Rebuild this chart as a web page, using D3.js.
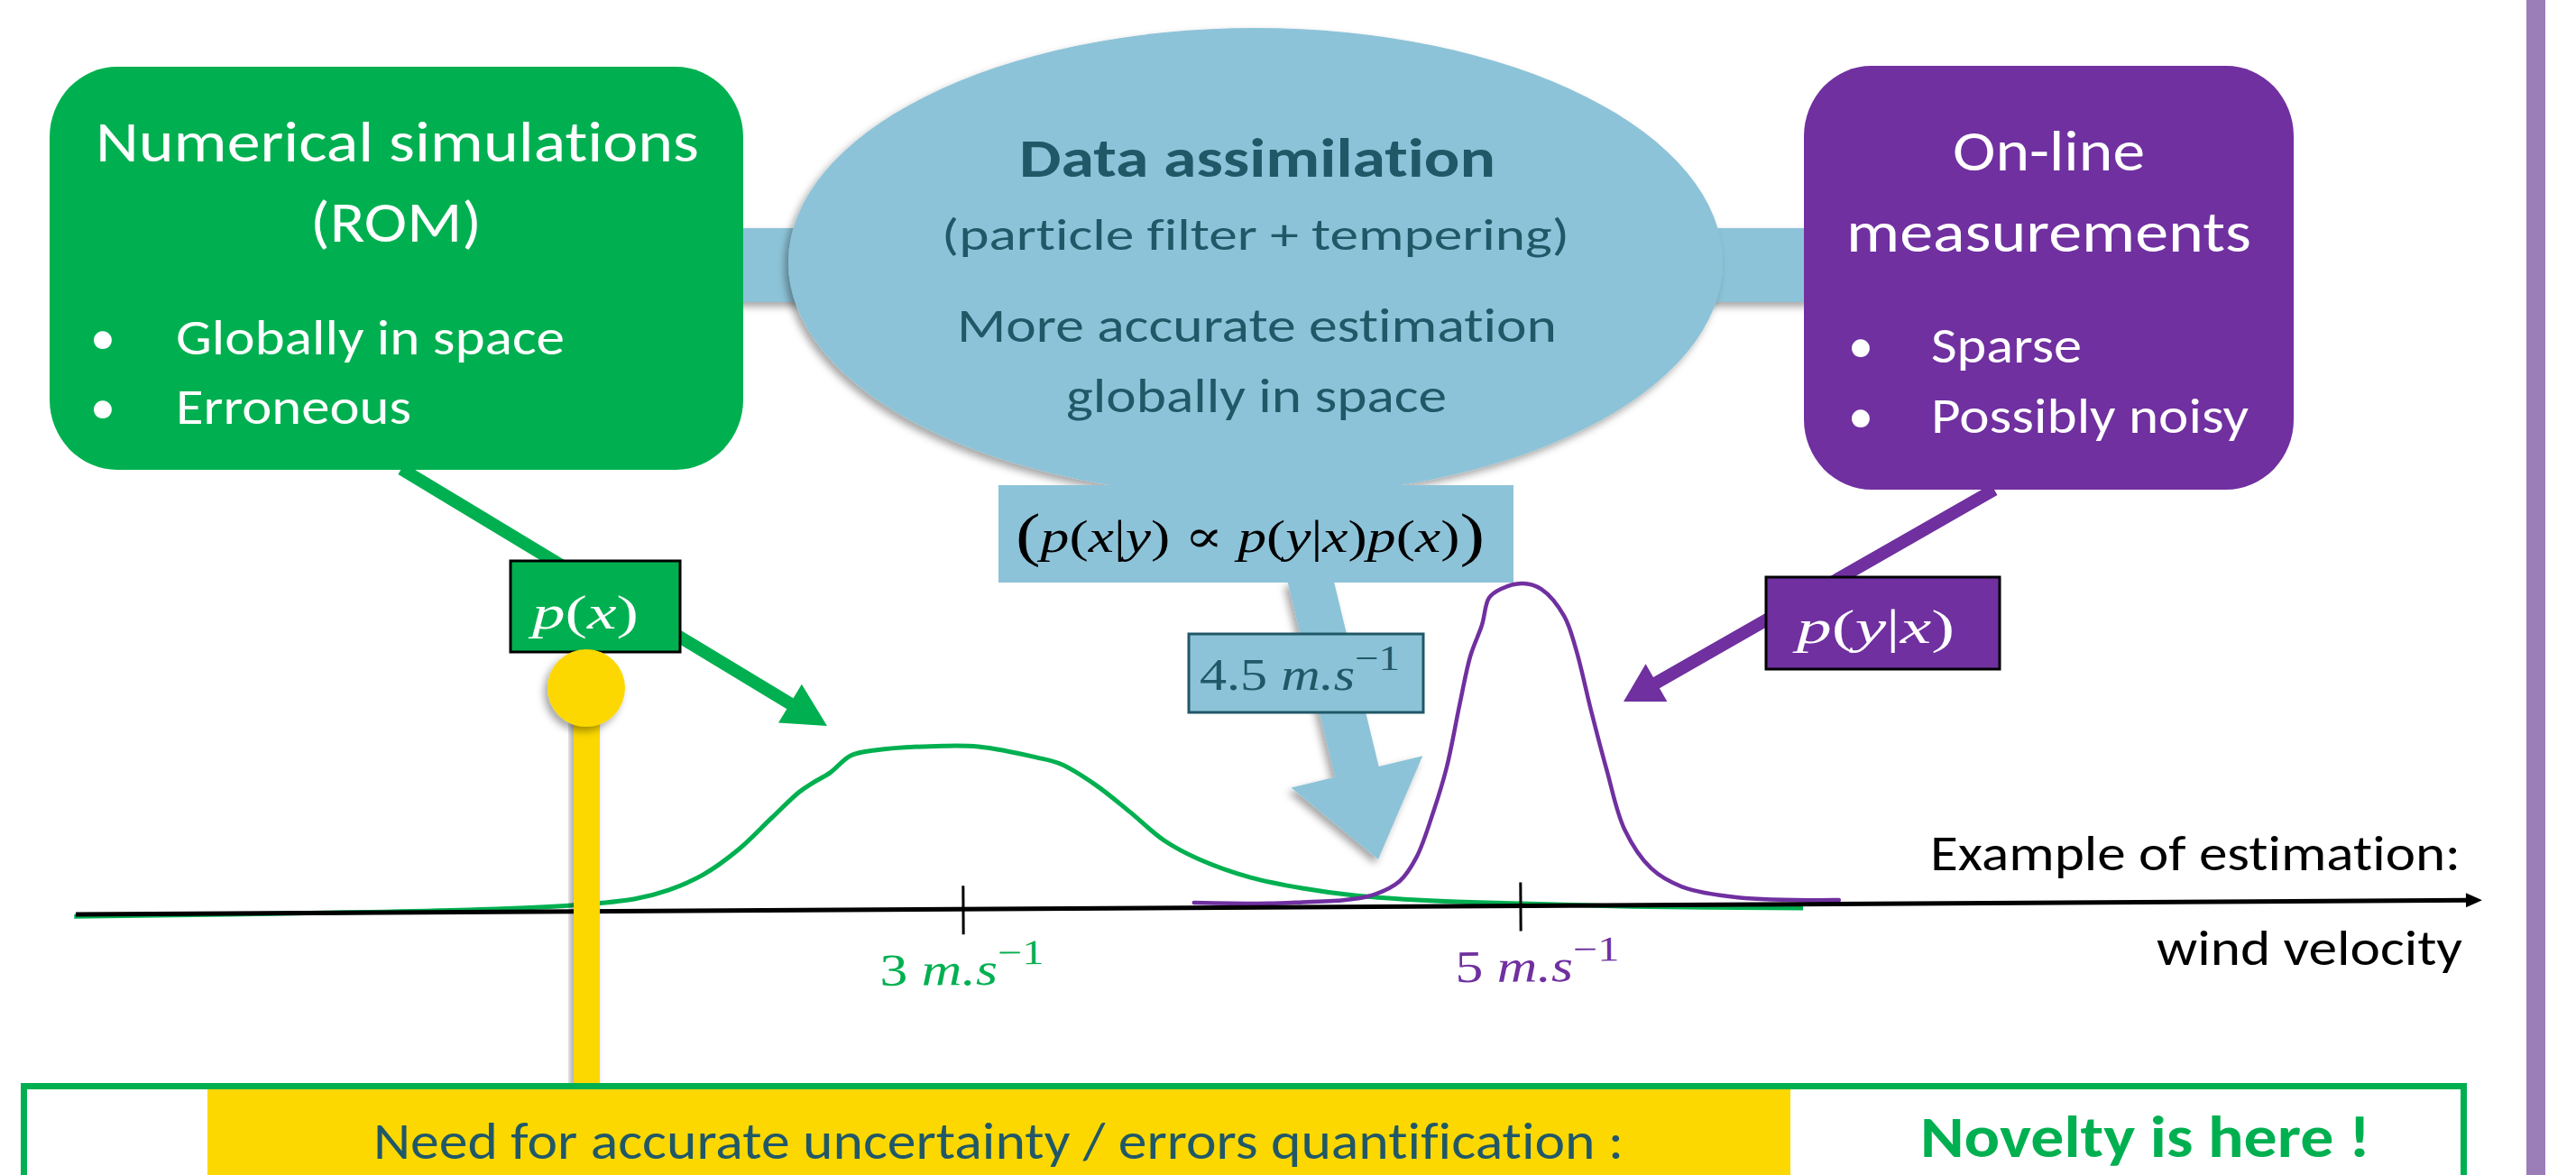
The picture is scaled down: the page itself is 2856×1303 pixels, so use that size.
<!DOCTYPE html>
<html>
<head>
<meta charset="utf-8">
<script src="https://cdn.jsdelivr.net/npm/d3@7"></script>
<style>
  body { margin: 0; background: #fff; }
  svg { display: block; }
  text { font-variant-ligatures: none; font-feature-settings: "liga" 0, "clig" 0; }
</style>
</head>
<body>
<svg id="chart" width="2856" height="1303"></svg>
<script>
// --- data (velocity in m/s, density in arbitrary units) ---
const greenVelocity = [-0.19, 0.8, 1.324, 1.595, 1.819, 1.942, 2.068, 2.191, 2.314, 2.414, 2.463, 2.524, 2.599, 2.686, 2.932, 3.058, 3.265, 3.353, 3.476, 3.599, 3.722, 3.848, 4.032, 4.217, 4.405, 4.712, 5.0, 5.4, 6.013];
const greenDensity  = [-0.006, 0.001, 0.009, 0.019, 0.037, 0.064, 0.111, 0.185, 0.284, 0.364, 0.392, 0.422, 0.475, 0.491, 0.503, 0.500, 0.466, 0.445, 0.381, 0.297, 0.208, 0.149, 0.092, 0.058, 0.035, 0.016, 0.007, -0.004, -0.012];
const purpleVelocity = [3.828, 4.094, 4.236, 4.343, 4.466, 4.566, 4.628, 4.689, 4.738, 4.786, 4.825, 4.867, 4.893, 4.935, 5.013, 5.081, 5.162, 5.204, 5.256, 5.311, 5.375, 5.469, 5.579, 5.780, 6.142];
const purpleDensity  = [0.016, 0.012, 0.016, 0.019, 0.035, 0.078, 0.153, 0.292, 0.430, 0.624, 0.771, 0.866, 0.949, 0.976, 0.993, 0.975, 0.892, 0.789, 0.603, 0.419, 0.232, 0.113, 0.056, 0.022, 0.012];
const tickValues = [3, 5];
const tickNumbers = ['3', '5'];
const tickColors = ['#00B050', '#7030A0'];
const estimate = '4.5';

const greenTitle = ['Numerical simulations', '(ROM)'];
const greenBullets = ['Globally in space', 'Erroneous'];
const daTitle = 'Data assimilation';
const daLines = ['(particle filter + tempering)', 'More accurate estimation', 'globally in space'];
const purpleTitle = ['On-line', 'measurements'];
const purpleBullets = ['Sparse', 'Possibly noisy'];
const axisTitle = ['Example of estimation:', 'wind velocity'];
const bottomText = ['Need for accurate uncertainty / errors quantification :', 'Novelty is here !'];

const C = { green: '#00B050', purple: '#7030A0', blue: '#8DC3D8', teal: '#215868', yellow: '#FCD800', lilac: '#9B7DB8' };
const sans = "Carlito, Lato, 'Open Sans', sans-serif";
const serif = "'Liberation Serif', 'DejaVu Serif', serif";

const svg = d3.select('#chart');
const defs = svg.append('defs');
const sh = defs.append('filter').attr('id', 'shadow')
  .attr('x', '-20%').attr('y', '-20%').attr('width', '140%').attr('height', '140%');
sh.append('feDropShadow').attr('dx', -4).attr('dy', 5).attr('stdDeviation', 4)
  .attr('flood-color', '#000').attr('flood-opacity', 0.35);

function label(g, o) {
  const t = g.append('text')
    .attr('x', o.x).attr('y', o.y)
    .attr('font-size', o.size)
    .attr('font-family', o.family || sans)
    .attr('font-weight', o.weight || 400)
    .attr('fill', o.fill)
    .text(o.text);
  if (o.len) t.attr('textLength', o.len).attr('lengthAdjust', 'spacingAndGlyphs');
  return t;
}

// segments: [text, kind] with kind n (upright), i (italic), sup (superscript), big (tall paren)
function math(g, x, y, size, segs, fill, len) {
  const t = g.append('text').attr('x', x).attr('y', y)
    .attr('font-size', size).attr('font-family', serif).attr('fill', fill);
  let lift = 0;
  segs.forEach(([s, kind]) => {
    const ts = t.append('tspan').text(s);
    let dy = -lift;
    lift = 0;
    if (kind === 'i') ts.attr('font-style', 'italic');
    if (kind === 'sup') { ts.attr('font-size', size * 0.78); dy -= size * 0.45; lift = -size * 0.45; }
    if (kind === 'big') { ts.attr('font-size', size * 1.3); dy += size * 0.06; lift = size * 0.06; }
    if (dy) ts.attr('dy', dy);
  });
  if (len) t.attr('textLength', len).attr('lengthAdjust', 'spacingAndGlyphs');
  return t;
}

function arrowPath(x1, y1, x2, y2, sw, hw, hl) {
  const dx = x2 - x1, dy = y2 - y1, L = Math.hypot(dx, dy);
  const ux = dx / L, uy = dy / L, px = -uy, py = ux;
  const bx = x2 - ux * hl, by = y2 - uy * hl;
  const pts = [
    [x1 + px * sw / 2, y1 + py * sw / 2], [bx + px * sw / 2, by + py * sw / 2],
    [bx + px * hw / 2, by + py * hw / 2], [x2, y2],
    [bx - px * hw / 2, by - py * hw / 2], [bx - px * sw / 2, by - py * sw / 2],
    [x1 - px * sw / 2, y1 - py * sw / 2]
  ];
  return d3.line()(pts) + 'Z';
}

// right side bar
svg.append('rect').attr('x', 2801).attr('y', 0).attr('width', 21).attr('height', 1303).attr('fill', C.lilac);

// connector bar + ellipse
svg.append('rect').attr('x', 820).attr('y', 253).attr('width', 1190).attr('height', 82)
  .attr('fill', C.blue).attr('filter', 'url(#shadow)');
svg.append('ellipse').attr('cx', 1392).attr('cy', 291).attr('rx', 518).attr('ry', 260)
  .attr('fill', C.blue).attr('filter', 'url(#shadow)');

// arrows from the boxes
svg.append('path').attr('d', arrowPath(445, 520, 917, 805, 14, 50, 48)).attr('fill', C.green);
svg.append('path').attr('d', arrowPath(2211, 543, 1800, 778, 14, 48, 42)).attr('fill', C.purple);

// rounded boxes
svg.append('rect').attr('x', 55).attr('y', 74).attr('width', 769).attr('height', 447)
  .attr('rx', 75).attr('ry', 78).attr('fill', C.green);
svg.append('rect').attr('x', 2000).attr('y', 73).attr('width', 543).attr('height', 470)
  .attr('rx', 75).attr('ry', 78).attr('fill', C.purple);

// formula rect + blue arrow
svg.append('path').attr('d', arrowPath(1452, 640, 1528, 953, 50, 150, 100))
  .attr('fill', C.blue).attr('filter', 'url(#shadow)');
svg.append('rect').attr('x', 1107).attr('y', 538).attr('width', 571).attr('height', 108).attr('fill', C.blue);
svg.append('rect').attr('x', 1318).attr('y', 703).attr('width', 260).attr('height', 87)
  .attr('fill', C.blue).attr('stroke', C.teal).attr('stroke-width', 3);

// p(x), p(y|x) boxes
svg.append('rect').attr('x', 566).attr('y', 622).attr('width', 188).attr('height', 101)
  .attr('fill', C.green).attr('stroke', '#000').attr('stroke-width', 3);
svg.append('rect').attr('x', 1958).attr('y', 640).attr('width', 259).attr('height', 102)
  .attr('fill', C.purple).attr('stroke', '#000').attr('stroke-width', 3);

// --- the density plot, slightly tilted like the original ---
const plot = svg.append('g').attr('transform', 'rotate(-0.34,84,1014)');
const x = d3.scaleLinear().domain([3, 5]).range([1068, 1686]);
const y = d3.scaleLinear().domain([0, 1]).range([1014, 654]);
const line = d3.line().x(d => x(d[0])).y(d => y(d[1])).curve(d3.curveCatmullRom.alpha(0.5));

plot.append('path').attr('d', line(d3.zip(greenVelocity, greenDensity)))
  .attr('fill', 'none').attr('stroke', C.green).attr('stroke-width', 5);
plot.append('path').attr('d', line(d3.zip(purpleVelocity, purpleDensity)))
  .attr('fill', 'none').attr('stroke', C.purple).attr('stroke-width', 4.5)
  .attr('stroke-linecap', 'round');

plot.append('line').attr('x1', 84).attr('x2', 2738).attr('y1', y(0)).attr('y2', y(0))
  .attr('stroke', '#000').attr('stroke-width', 5);
plot.append('path').attr('d', d3.line()([[2734, y(0) - 8], [2752, y(0)], [2734, y(0) + 8]]) + 'Z').attr('fill', '#000');

plot.selectAll('.tick').data(tickValues).join('line')
  .attr('class', 'tick')
  .attr('x1', d => x(d)).attr('x2', d => x(d))
  .attr('y1', y(0) - 26).attr('y2', y(0) + 28)
  .attr('stroke', '#000').attr('stroke-width', 3);
const tickDx = [-93, -73];
tickValues.forEach((t, i) => {
  math(plot, x(t) + tickDx[i], y(0) + 84, 50,
    [[tickNumbers[i] + ' ', 'n'], ['m.s', 'i'], ['\u22121', 'sup']], tickColors[i], 182);
});

// yellow pin
svg.append('rect').attr('x', 636).attr('y', 780).attr('width', 29).attr('height', 425)
  .attr('fill', C.yellow).attr('filter', 'url(#shadow)');
svg.append('circle').attr('cx', 650).attr('cy', 763).attr('r', 43)
  .attr('fill', C.yellow).attr('filter', 'url(#shadow)');

// bottom banner
svg.append('rect').attr('x', 230).attr('y', 1208).attr('width', 1755).attr('height', 110).attr('fill', C.yellow);
svg.append('rect').attr('x', 26.5).attr('y', 1204.5).attr('width', 2705).attr('height', 200)
  .attr('fill', 'none').attr('stroke', C.green).attr('stroke-width', 7);

// --- texts ---
label(svg, { x: 106, y: 179, size: 64, fill: '#fff', text: greenTitle[0], len: 669 });
label(svg, { x: 344, y: 268, size: 64, fill: '#fff', text: greenTitle[1], len: 190 });
[393, 470].forEach((yy, i) => {
  label(svg, { x: 100, y: yy, size: 56, fill: '#fff', text: '\u2022' });
  label(svg, { x: 195, y: yy, size: 56, fill: '#fff', text: greenBullets[i], len: [431, 261][i] });
});

label(svg, { x: 1130, y: 196, size: 60, weight: 700, fill: C.teal, text: daTitle, len: 528 });
label(svg, { x: 1044, y: 277, size: 50, fill: C.teal, text: daLines[0], len: 696 });
label(svg, { x: 1061, y: 379, size: 53, fill: C.teal, text: daLines[1], len: 665 });
label(svg, { x: 1182, y: 457, size: 53, fill: C.teal, text: daLines[2], len: 422 });

label(svg, { x: 2165, y: 189, size: 64, fill: '#fff', text: purpleTitle[0], len: 213 });
label(svg, { x: 2047, y: 279, size: 64, fill: '#fff', text: purpleTitle[1], len: 449 });
[402, 480].forEach((yy, i) => {
  label(svg, { x: 2049, y: yy, size: 56, fill: '#fff', text: '\u2022' });
  label(svg, { x: 2141, y: yy, size: 56, fill: '#fff', text: purpleBullets[i], len: [167, 352][i] });
});

math(svg, 1126, 612, 50,
  [['(', 'big'], ['p', 'i'], ['(', 'n'], ['x', 'i'], ['|', 'n'], ['y', 'i'], [')', 'n'], [' \u221D ', 'n'],
   ['p', 'i'], ['(', 'n'], ['y', 'i'], ['|', 'n'], ['x', 'i'], [')', 'n'], ['p', 'i'], ['(', 'n'], ['x', 'i'], [')', 'n'], [')', 'big']],
  '#000', 520);
math(svg, 1330, 765, 50, [[estimate + ' ', 'n'], ['m.s', 'i'], ['\u22121', 'sup']], C.teal, 222);
math(svg, 590, 697, 52, [['p', 'i'], ['(', 'n'], ['x', 'i'], [')', 'n']], '#fff', 118);
math(svg, 1992, 713, 52, [['p', 'i'], ['(', 'n'], ['y', 'i'], ['|', 'n'], ['x', 'i'], [')', 'n']], '#fff', 175);

label(svg, { x: 2140, y: 965, size: 56, fill: '#000', text: axisTitle[0], len: 588 });
label(svg, { x: 2391, y: 1070, size: 56, fill: '#000', text: axisTitle[1], len: 339 });

label(svg, { x: 414, y: 1285, size: 58, fill: C.teal, text: bottomText[0], len: 1386 });
label(svg, { x: 2129, y: 1283, size: 64, weight: 700, fill: C.green, text: bottomText[1], len: 499 });
</script>
</body>
</html>
